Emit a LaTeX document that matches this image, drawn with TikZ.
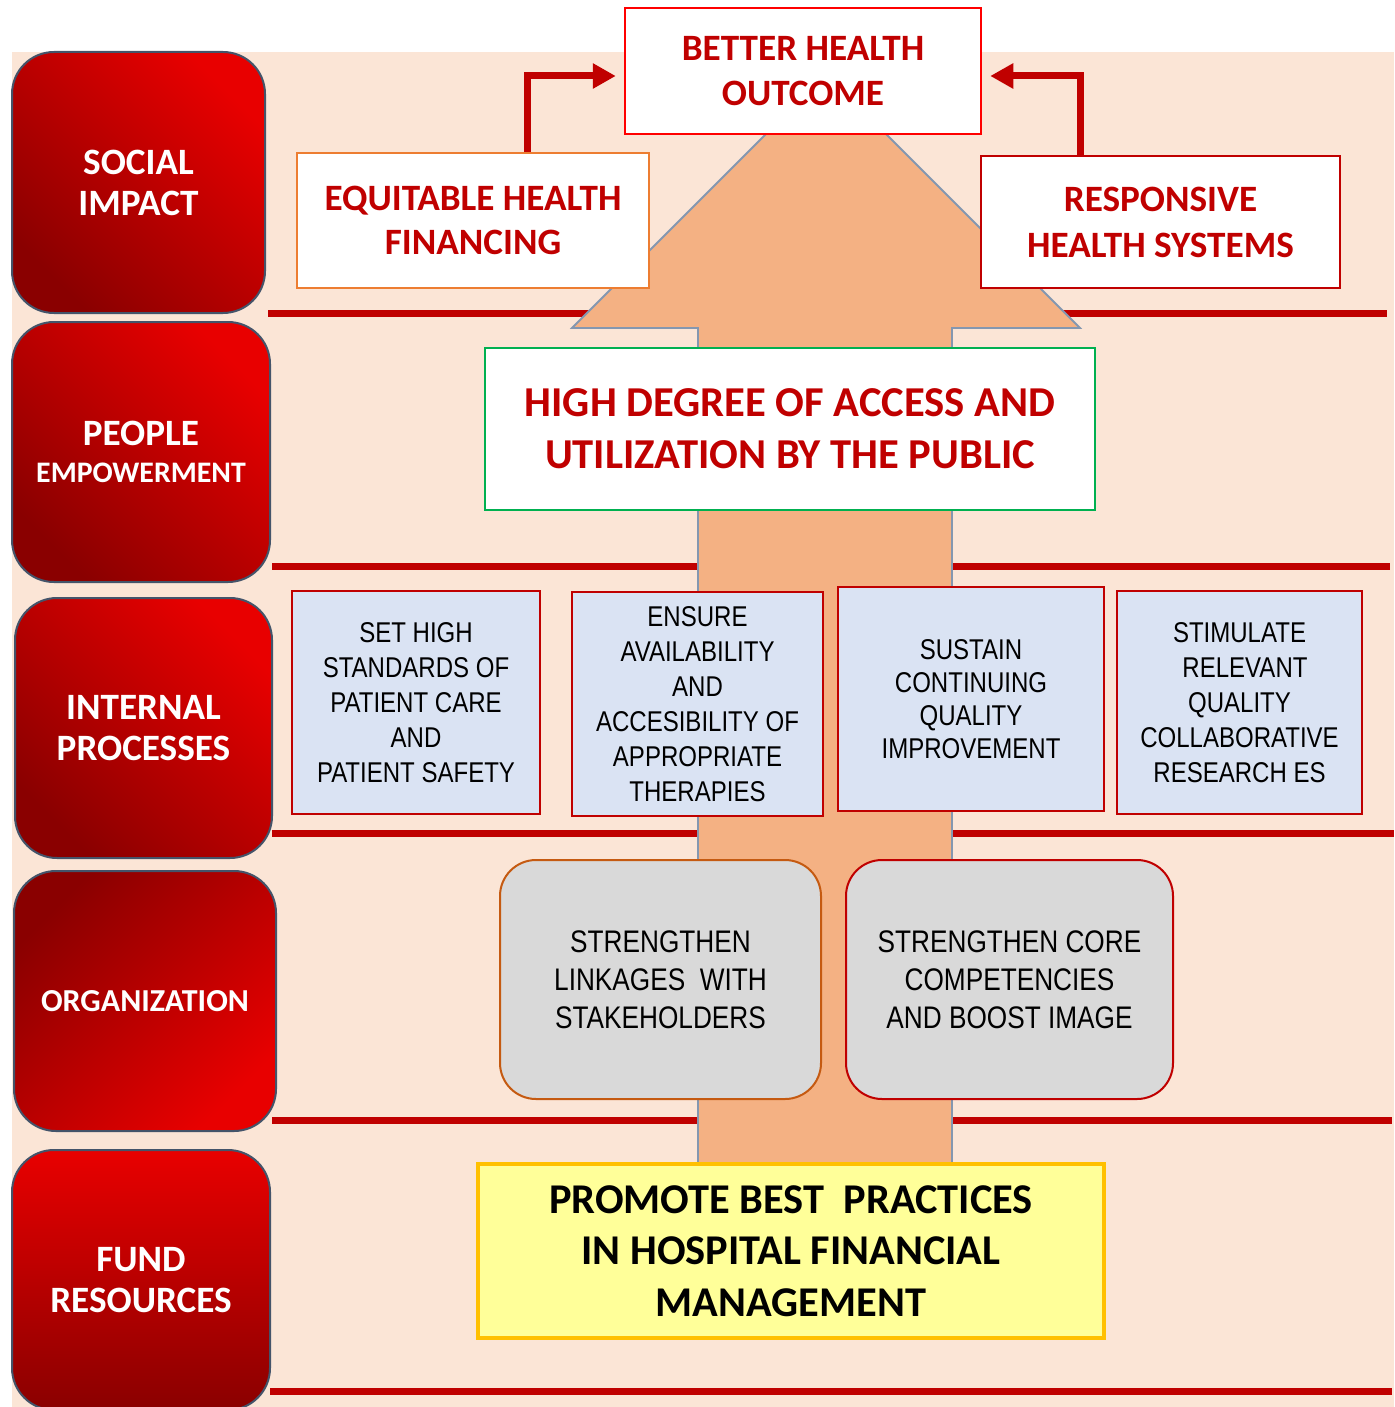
\documentclass[tikz,border=0pt]{standalone}
\usepackage{fontspec}
\setmainfont{Carlito}
\newfontfamily\narrowfont[FakeStretch=0.84]{Liberation Sans}
\usetikzlibrary{arrows.meta,calc}
\definecolor{bgpeach}{HTML}{FBE5D6}
\definecolor{arrowfill}{HTML}{F4B183}
\definecolor{arrowline}{HTML}{8497B0}
\definecolor{dred}{HTML}{C00000}
\definecolor{lbright}{HTML}{E80000}
\definecolor{ldark}{HTML}{8A0000}
\definecolor{lborder}{HTML}{44546A}
\definecolor{boxblue}{HTML}{DAE3F3}
\definecolor{boxgray}{HTML}{D9D9D9}
\definecolor{boxyellow}{HTML}{FFFF99}
\definecolor{yborder}{HTML}{FFC000}
\definecolor{eqorange}{HTML}{ED7D31}
\definecolor{brown}{HTML}{C55A11}
\definecolor{hgreen}{HTML}{00B050}
\begin{document}
\begin{tikzpicture}[x=1pt,y=-1pt,
  lbox/.style={draw=lborder, line width=2pt, rounded corners=42pt, inner sep=0pt, align=center, text=white, font=\bfseries\fontsize{37.2}{41}\selectfont},
  tbox/.style={fill=white, line width=2.5pt, inner sep=0pt, align=center, text=dred, font=\bfseries\fontsize{37.2}{45}\selectfont},
  bbox/.style={fill=boxblue, draw=dred, line width=2.5pt, inner sep=0pt, align=center, font=\narrowfont\fontsize{28.6}{35}\selectfont},
  gbox/.style={fill=boxgray, line width=2pt, rounded corners=36pt, inner sep=0pt, align=center, font=\narrowfont\fontsize{31.2}{38}\selectfont},
  sepline/.style={draw=dred, line width=7pt},
  conn/.style={draw=dred, line width=7pt, -{Triangle[length=23pt,width=24pt]}, shorten >=8pt}
]
\useasboundingbox (0,0) rectangle (1394,1407);
% background
\fill[bgpeach] (12,52) rectangle (1394,1407);
% separator lines
\draw[sepline] (268,313) -- (1387,313);
\draw[sepline] (272,566) -- (1390,566);
\draw[sepline] (272,833) -- (1394,833);
\draw[sepline] (272,1120) -- (1392,1120);
\draw[sepline] (270,1391) -- (1392,1391);
% big arrow
\filldraw[fill=arrowfill, draw=arrowline, line width=1.8pt, line join=miter]
  (698,1170) -- (698,328) -- (572,328) -- (826,74) -- (1080,328) -- (952,328) -- (952,1170) -- cycle;
% left category boxes
\node[lbox, top color=lbright, bottom color=ldark, shading angle=-45, minimum width=253, minimum height=261] (social) at (138.5,182.5) {SOCIAL\\IMPACT};
\node[lbox, top color=lbright, bottom color=ldark, shading angle=-45, minimum width=258, minimum height=260] (people) at (141,452) {PEOPLE\\[-4pt]{\fontsize{29.8}{30}\selectfont EMPOWERMENT}};
\node[lbox, top color=lbright, bottom color=ldark, shading angle=-45, minimum width=257, minimum height=260] (internal) at (143.5,728) {INTERNAL\\PROCESSES};
\node[lbox, top color=ldark, bottom color=lbright, shading angle=45, minimum width=262, minimum height=260, font=\bfseries\fontsize{32}{36}\selectfont] (org) at (145,1001) {ORGANIZATION};
\node[lbox, top color=lbright, bottom color=ldark, minimum width=258, minimum height=260] (fund) at (141,1280) {FUND\\RESOURCES};
% top boxes
\node[tbox, draw=red, minimum width=356, minimum height=126] (better) at (803,71) {BETTER HEALTH\\OUTCOME};
\node[tbox, draw=eqorange, line width=2pt, minimum width=352, minimum height=135, font=\bfseries\fontsize{37.2}{44}\selectfont] (eq) at (473,220.5) {EQUITABLE HEALTH\\FINANCING};
\node[tbox, draw=dred, minimum width=359, minimum height=132, font=\bfseries\fontsize{37.2}{46}\selectfont] (resp) at (1160.5,222) {RESPONSIVE\\HEALTH SYSTEMS};
\node[tbox, draw=hgreen, minimum width=610, minimum height=162, font=\bfseries\fontsize{42.6}{52}\selectfont] (access) at (790,429) {HIGH DEGREE OF ACCESS AND\\UTILIZATION BY THE PUBLIC};
% internal process boxes
\node[bbox, minimum width=248, minimum height=223] (care) at (416,702.5) {SET HIGH\\STANDARDS OF\\PATIENT CARE\\AND\\PATIENT SAFETY};
\node[bbox, minimum width=251, minimum height=224] (avail) at (697.5,704) {ENSURE\\AVAILABILITY\\AND\\ACCESIBILITY OF\\APPROPRIATE\\THERAPIES};
\node[bbox, minimum width=266, minimum height=224, font=\narrowfont\fontsize{28.6}{33}\selectfont] (sustain) at (971,699) {SUSTAIN\\CONTINUING\\QUALITY\\IMPROVEMENT};
\node[bbox, minimum width=245, minimum height=223] (research) at (1239.5,702.5) {STIMULATE\\\hspace*{11pt}RELEVANT\\QUALITY\\COLLABORATIVE\\RESEARCH ES};
% organization boxes
\node[gbox, draw=brown, minimum width=321, minimum height=239] (link) at (660.5,979.5) {STRENGTHEN\\LINKAGES\ \ WITH\\STAKEHOLDERS};
\node[gbox, draw=dred, minimum width=327, minimum height=239] (core) at (1009.5,979.5) {STRENGTHEN CORE\\COMPETENCIES\\AND BOOST IMAGE};
% fund box
\node[fill=boxyellow, draw=yborder, line width=4pt, inner sep=0pt, align=center, minimum width=626, minimum height=174, font=\bfseries\fontsize{42.4}{51.5}\selectfont] (promote) at (791,1251) {PROMOTE BEST\ \ PRACTICES\\IN HOSPITAL FINANCIAL\\MANAGEMENT};
% connectors
\draw[conn] ($(eq.north west)!0.653!(eq.north east)$) |- ([yshift=-5pt]better.west);
\draw[conn] ($(resp.north west)!0.279!(resp.north east)$) |- ([yshift=-5pt]better.east);
\end{tikzpicture}
\end{document}
